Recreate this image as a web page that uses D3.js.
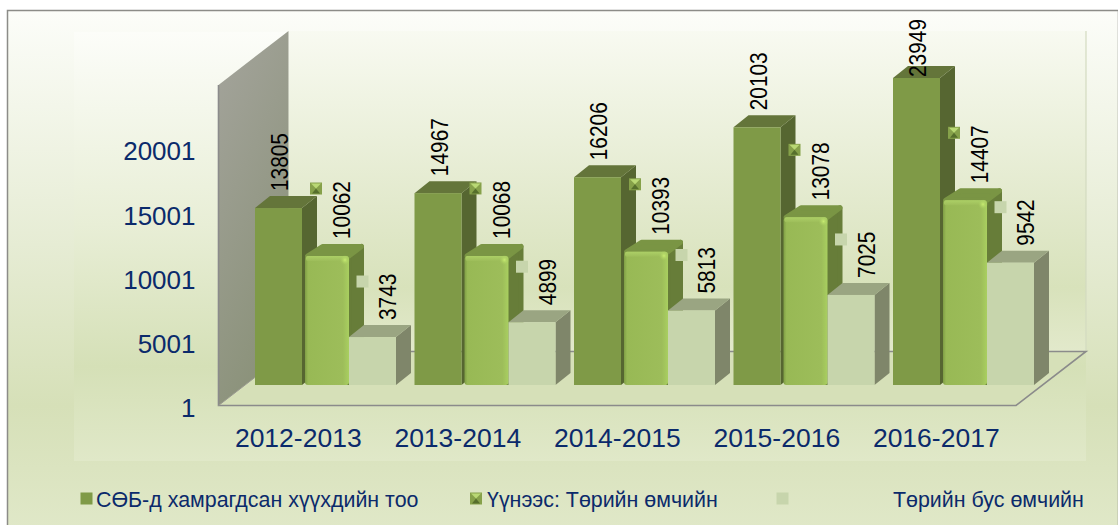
<!DOCTYPE html>
<html>
<head>
<meta charset="utf-8">
<style>
  html, body { margin: 0; padding: 0; background: #fff; }
  svg { display: block; font-family: "Liberation Sans", Arial, sans-serif; }
  .tick line, .domain { display: none; }
</style>
<script src="https://cdn.jsdelivr.net/npm/d3@7"></script>
</head>
<body>
<svg width="1118" height="525"></svg>
<script>
var categories = ["2012-2013", "2013-2014", "2014-2015", "2015-2016", "2016-2017"];
var seriesNames = ["СӨБ-д хамрагдсан хүүхдийн тоо", "Үүнээс: Төрийн өмчийн", "Төрийн бус өмчийн"];
var totalKids = [13805, 14967, 16206, 20103, 23949];
var stateOwned = [10062, 10068, 10393, 13078, 14407];
var nonState = [3743, 4899, 5813, 7025, 9542];
var yTicks = [1, 5001, 10001, 15001, 20001];

var svg = d3.select("svg"),
    defs = svg.append("defs");

// depth of the fake 3d box, and of each bar
var boxDx = 70, boxDy = -54, barDx = 15, barDy = -12;
var plot = {left: 218.5, right: 1016, front: 405.5, top: 85};
var baseShift = -20.5; // bars stand this far behind the front edge of the floor

var y = d3.scaleLinear().domain([1, 25001]).range([plot.front, plot.top]);
var x0 = d3.scaleBand().domain(categories).range([219.5, 1017]);
var x1 = d3.scaleBand().domain([0, 1, 2]).range([35.5, 35.5 + 141]);

function linear(id, stops, x2, y2) {
  var g = defs.append("linearGradient").attr("id", id)
      .attr("x1", 0).attr("y1", 0).attr("x2", x2).attr("y2", y2);
  stops.forEach(function(s) {
    g.append("stop").attr("offset", s[0]).attr("stop-color", s[1]);
  });
}
linear("pageBg", [[0, "#fcfdf9"], [0.45, "#e6ecd4"], [0.76, "#d6e0b8"], [1, "#e0e8c8"]], 0, 1);
linear("plotBg", [[0, "#fcfdf9"], [0.45, "#e8eed6"], [0.78, "#d5e0b7"], [1, "#e0e8c8"]], 0, 1);
linear("wallBg", [[0, "#f8faf1"], [0.55, "#e2e9cc"], [0.8, "#d8e2bb"], [1, "#e2e9cb"]], 0, 1);
linear("leftWall", [[0, "#a4a49c"], [1, "#8b927a"]], 0.4, 1);
linear("midFront", [[0, "#7f9e45"], [0.07, "#98b955"], [0.86, "#9dbd5a"], [1, "#a9cf60"]], 1, 0);
linear("midTop", [[0, "#accf66"], [1, "#9dbd5a"]], 0, 1);
var glow = defs.append("radialGradient").attr("id", "midGlow");
glow.append("stop").attr("offset", 0).attr("stop-color", "#c8ec72");
glow.append("stop").attr("offset", 1).attr("stop-color", "#a9cf60").attr("stop-opacity", 0);

// page background, frame and plot area
svg.append("rect").attr("x", 7.5).attr("y", 10.5).attr("width", 1111).attr("height", 520)
    .attr("fill", "url(#pageBg)").attr("stroke", "#8c8c88").attr("stroke-width", 1.5);
svg.append("rect").attr("x", 74).attr("y", 32).attr("width", 1012).attr("height", 429)
    .attr("fill", "url(#plotBg)");

// back wall, side wall and floor
var bl = [plot.left + boxDx, plot.front + boxDy],
    br = [plot.right + boxDx, plot.front + boxDy],
    wallTop = plot.top + boxDy;
svg.append("rect").attr("x", bl[0]).attr("y", wallTop)
    .attr("width", br[0] - bl[0]).attr("height", bl[1] - wallTop)
    .attr("fill", "url(#wallBg)");
svg.append("line").attr("x1", br[0]).attr("x2", br[0]).attr("y1", wallTop).attr("y2", br[1])
    .attr("stroke", "#d3dbc0").attr("stroke-width", 1.2);
svg.append("path")
    .attr("d", d3.line()([[plot.left, plot.front], [plot.right, plot.front], br, bl]) + "Z")
    .attr("fill", "#d6e0b8");
svg.append("path")
    .attr("d", d3.line()([[plot.left, plot.top], [bl[0], wallTop], bl, [plot.left, plot.front]]) + "Z")
    .attr("fill", "url(#leftWall)");
svg.append("path")
    .attr("d", d3.line()([[plot.left, plot.top], [plot.left, plot.front], [plot.right, plot.front], br, bl]))
    .attr("fill", "none").attr("stroke", "#8b8b8b").attr("stroke-width", 1.6);
svg.append("path")
    .attr("d", d3.line()([[plot.left, plot.front], bl]))
    .attr("fill", "none").attr("stroke", "#9a9a90").attr("stroke-width", 1);

// axes
var yAxis = svg.append("g")
    .attr("transform", "translate(201.5,2.5)")
    .call(d3.axisLeft(y).tickValues(yTicks).tickFormat(d3.format("d")).tickSize(0).tickPadding(6));
yAxis.selectAll("text").attr("fill", "#0b2a6b").style("font-size", "26px");

var xAxis = svg.append("g")
    .attr("transform", "translate(-1," + plot.front + ")")
    .call(d3.axisBottom(x0).tickSize(0).tickPadding(22.5));
xAxis.selectAll("text").attr("fill", "#0b2a6b").style("font-size", "26.5px");

// bars: each one is front + top + side
var styles = [
  {front: "#7f9a47", top: "#64753a", side: "#566631", width: 47, shift: 0},
  {front: "url(#midFront)", top: "#7a9544", side: "#677d39", width: 44, shift: 3, round: true},
  {front: "#c7d5ac", top: "#9aa582", side: "#7f866a", width: 47, shift: 0}
];
var values = [totalKids, stateOwned, nonState];
var labelX = [25, 40, 39];

function drawBar(parent, bx, v, st) {
  var base = plot.front + baseShift,
      top = y(v) + baseShift,
      w = st.width,
      g = parent.append("g").attr("class", "bar");
  // the rounded bar gets soft corners by stroking an inset outline
  var inset = st.round ? 2.5 : 0;
  g.append("path")
      .attr("d", d3.line()([[bx + w, top], [bx + w + barDx - inset, top + barDy + inset], [bx + w + barDx - inset, base + barDy], [bx + w, base]]) + "Z")
      .attr("fill", st.side)
      .attr("stroke", st.side).attr("stroke-width", inset * 2).attr("stroke-linejoin", "round");
  g.append("path")
      .attr("d", d3.line()([[bx + inset, top], [bx + barDx + inset, top + barDy + inset], [bx + w + barDx - inset, top + barDy + inset], [bx + w, top]]) + "Z")
      .attr("fill", st.top)
      .attr("stroke", st.top).attr("stroke-width", inset * 2).attr("stroke-linejoin", "round");
  if (st.round) {
    // cover what the stroke pushes past the base of the side
    g.append("rect").attr("x", bx).attr("y", base).attr("width", w + barDx + 3).attr("height", 3)
        .attr("fill", "#d6e0b8");
  }
  g.append("rect").attr("x", bx).attr("y", top).attr("width", w).attr("height", base - top)
      .attr("rx", st.round ? 3 : 0)
      .attr("fill", st.front);
  if (st.round) {
    g.append("rect").attr("x", bx + 1).attr("y", top).attr("width", w - 2).attr("height", 5)
        .attr("rx", 2).attr("fill", "url(#midTop)");
    g.append("circle").attr("cx", bx + w - 4).attr("cy", top + 4).attr("r", 5)
        .attr("fill", "url(#midGlow)");
  }
}

categories.forEach(function(c, i) {
  values.forEach(function(vals, s) {
    drawBar(svg, x0(c) + x1(s) + styles[s].shift, vals[i], styles[s]);
  });
});

// data labels and the little legend keys that go with them
function drawKey(parent, cx, cy, s, size) {
  var h = size / 2;
  if (s === 0) {
    parent.append("rect").attr("x", cx - h).attr("y", cy - h).attr("width", size).attr("height", size)
        .attr("fill", "#7f9a47");
  } else if (s === 1) {
    parent.append("rect").attr("x", cx - h).attr("y", cy - h).attr("width", size).attr("height", size)
        .attr("fill", "#86a14a");
    parent.append("path")
        .attr("d", d3.line()([[cx - h + 1, cy - h + 1], [cx + h - 1, cy - h + 1], [cx, cy]]) + "Z").attr("fill", "#b9d874");
    parent.append("path")
        .attr("d", d3.line()([[cx - h + 2, cy + h - 1], [cx + h - 2, cy + h - 1], [cx, cy]]) + "Z").attr("fill", "#566f2c");
  } else {
    parent.append("rect").attr("x", cx - h).attr("y", cy - h).attr("width", size).attr("height", size)
        .attr("fill", "#c7d5ac");
  }
}

var keyOffset = [null, 67.5, 55.5], keyX = [null, 14, 13.5];

categories.forEach(function(c, i) {
  values.forEach(function(vals, s) {
    var bx = x0(c) + x1(s),
        top = y(vals[i]) + baseShift,
        // the tallest label is pushed down so it stays inside the chart
        bottom = Math.max(top - 17, 77);
    svg.append("text")
        .attr("transform", "translate(" + (bx + labelX[s]) + "," + bottom + ") rotate(-90)")
        .attr("dy", "0.36em")
        .attr("fill", "#000")
        .attr("textLength", String(vals[i]).length * 11.6)
        .attr("lengthAdjust", "spacingAndGlyphs")
        .style("font-size", "23px")
        .text(vals[i]);
    if (s > 0) drawKey(svg, bx + keyX[s], top - keyOffset[s], s, 12);
  });
});

// legend
var legendKeyX = [86.5, 476, 782.5],
    legendTextX = [96, 487, 893];
seriesNames.forEach(function(name, s) {
  drawKey(svg, legendKeyX[s], 498.5, s, 12);
  svg.append("text")
      .attr("x", legendTextX[s]).attr("y", 500)
      .attr("dy", "0.35em")
      .attr("fill", "#0b2a6b")
      .style("font-size", "21.4px")
      .text(name);
});
</script>
</body>
</html>
